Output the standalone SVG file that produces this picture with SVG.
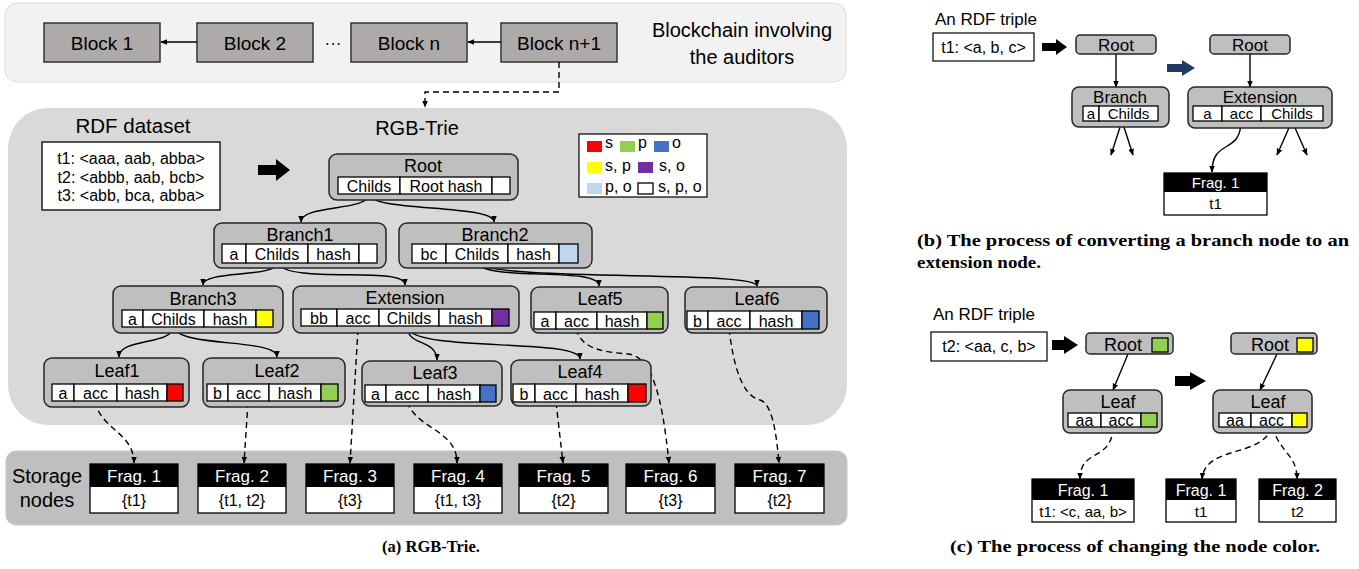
<svg xmlns="http://www.w3.org/2000/svg" width="1359" height="569" viewBox="0 0 1359 569">
<style>
text{font-family:"Liberation Sans",Arial,sans-serif;fill:#000}
.node{fill:#bfbfbf;stroke:#262626;stroke-width:1.5}
.block{fill:#aeaaaa;stroke:#333;stroke-width:1.5}
.cell{fill:#fff;stroke:#000;stroke-width:1.3}
.ti{font-size:18px;text-anchor:middle}
.ct{font-size:16px;text-anchor:middle}
.edge{fill:none;stroke:#000;stroke-width:1.4;marker-end:url(#ah)}
.dash{fill:none;stroke:#000;stroke-width:1.4;stroke-dasharray:6 4;marker-end:url(#ah)}
.fb{fill:#fff;stroke:#000;stroke-width:1.3}
.fh{fill:#000}
.fht{font-size:17px;text-anchor:middle;fill:#fff}
.fbt{font-size:16px;text-anchor:middle}
.cap{font-family:"Liberation Serif","Times New Roman",serif;font-weight:bold;font-size:16.5px}
.r{fill:#ff0000}.g{fill:#92d050}.b{fill:#4472c4}.y{fill:#ffff00}.p{fill:#7030a0}.lb{fill:#bdd7ee}
</style>
<defs>
<marker id="ah" viewBox="0 0 10 10" refX="9" refY="5" markerWidth="7" markerHeight="7" markerUnits="userSpaceOnUse" orient="auto"><path d="M0,1 L10,5 L0,9 z" fill="#000"/></marker>
</defs>

<!-- Panel backgrounds -->
<rect x="5" y="3" width="841" height="79" rx="12" fill="#f2f2f2" stroke="#dcdcdc"/>
<rect x="8" y="108" width="839" height="317" rx="40" fill="#d9d9d9"/>
<rect x="6" y="451" width="841" height="74" rx="10" fill="#bfbfbf" stroke="#c9c9c9"/>

<!-- Blockchain -->
<g id="block1"><rect class="block" x="44" y="23" width="116" height="39"/><text x="102" y="49.5" font-size="19" text-anchor="middle">Block 1</text></g>
<g id="block2"><rect class="block" x="197" y="23" width="116" height="39"/><text x="255" y="49.5" font-size="19" text-anchor="middle">Block 2</text></g>
<text x="333" y="49" font-size="17" text-anchor="middle">···</text>
<g id="blockn"><rect class="block" x="351" y="23" width="116" height="39"/><text x="409" y="49.5" font-size="19" text-anchor="middle">Block n</text></g>
<g id="blockn1"><rect class="block" x="501" y="23" width="116" height="39"/><text x="559" y="49.5" font-size="19" text-anchor="middle">Block n+1</text></g>
<text x="742" y="37" font-size="20" text-anchor="middle">Blockchain involving</text>
<text x="742" y="64" font-size="20" text-anchor="middle">the auditors</text>

<!-- RDF dataset -->
<text x="133" y="133" font-size="20.5" text-anchor="middle">RDF dataset</text>
<g id="dataset">
<rect x="42" y="142" width="178" height="68" fill="#fff" stroke="#000" stroke-width="1.3"/>
<text x="131" y="164" font-size="16" text-anchor="middle">t1: &lt;aaa, aab, abba&gt;</text>
<text x="131" y="183" font-size="16" text-anchor="middle">t2: &lt;abbb, aab, bcb&gt;</text>
<text x="131" y="201" font-size="16" text-anchor="middle">t3: &lt;abb, bca, abba&gt;</text>
</g>
<path d="M258,165 H276 V159 L290,170 L276,181 V175 H258 Z" fill="#000"/>
<text x="417" y="135" font-size="20" text-anchor="middle">RGB-Trie</text>

<!-- Legend -->
<g id="legend">
<rect x="579" y="134" width="128" height="63" fill="#fff" stroke="#000" stroke-width="1.2"/>
<rect class="r" x="587" y="141" width="15" height="11"/><text x="605" y="148" font-size="16">s</text>
<rect class="g" x="620" y="141" width="15" height="11"/><text x="638" y="148" font-size="16">p</text>
<rect class="b" x="654" y="141" width="15" height="11"/><text x="672" y="148" font-size="16">o</text>
<rect class="y" x="587" y="162" width="15" height="11"/><text x="605" y="171" font-size="16">s, p</text>
<rect class="p" x="638" y="162" width="15" height="11"/><text x="659" y="171" font-size="16">s, o</text>
<rect class="lb" x="587" y="183" width="15" height="11"/><text x="605" y="192" font-size="16">p, o</text>
<rect x="638" y="183" width="15" height="11" fill="#fff" stroke="#000" stroke-width="1.3"/><text x="658" y="192" font-size="16">s, p, o</text>
</g>

<!-- Connectors panel a -->
<g id="connectors">
<path class="edge" d="M197,42 H161"/>
<path class="edge" d="M501,42 H468"/>
<path class="dash" d="M559,62 V92 H425 V107"/>
<path class="edge" d="M369,194 C369,212 301,204 301,222"/>
<path class="edge" d="M369,194 C369,212 494,204 494,222"/>
<path class="edge" d="M277,263 C277,278 203,270 203,285"/>
<path class="edge" d="M277,263 C290,285 405,265 405,285"/>
<path class="edge" d="M476,263 C490,282 599,266 599,286"/>
<path class="edge" d="M476,263 C500,282 757,270 757,286"/>
<path class="edge" d="M173,327 C173,345 119,338 119,357"/>
<path class="edge" d="M173,327 C180,348 277,338 277,357"/>
<path class="edge" d="M408,329 C408,345 437,340 437,360"/>
<path class="edge" d="M408,329 C420,352 580,338 580,359"/>
<path class="dash" d="M96,401 C98,428 134,432 134,463"/>
<path class="dash" d="M248,402 L244,463"/>
<path class="dash" d="M358,329 L350,463"/>
<path class="dash" d="M407,402 C418,430 457,430 457,463"/>
<path class="dash" d="M556,402 L563,463"/>
<path class="dash" d="M576,329 C582,350 605,352 628,354 C652,357 662,395 669,463"/>
<path class="dash" d="M729,329 C733,360 740,395 760,400 C772,404 776,430 779,463"/>
</g>

<!-- Root -->
<g id="root">
<rect class="node" x="329" y="154" width="189" height="46" rx="8"/>
<text class="ti" x="423" y="172">Root</text>
<rect class="cell" x="338" y="177" width="62" height="17"/><text class="ct" x="369" y="191.5">Childs</text>
<rect class="cell" x="400" y="177" width="92" height="17"/><text class="ct" x="446" y="191.5">Root hash</text>
<rect class="cell" x="492" y="177" width="18" height="17"/>
</g>
<!-- Branch1 -->
<g id="branch1">
<rect class="node" x="214" y="223" width="172" height="45" rx="8"/>
<text class="ti" x="300" y="241">Branch1</text>
<rect class="cell" x="222" y="244" width="24" height="19"/><text class="ct" x="234" y="260">a</text>
<rect class="cell" x="246" y="244" width="62" height="19"/><text class="ct" x="277" y="260">Childs</text>
<rect class="cell" x="308" y="244" width="51" height="19"/><text class="ct" x="333.5" y="260">hash</text>
<rect class="cell" x="359" y="244" width="18" height="19"/>
</g>
<!-- Branch2 -->
<g id="branch2">
<rect class="node" x="399" y="223" width="193" height="45" rx="8"/>
<text class="ti" x="495" y="241">Branch2</text>
<rect class="cell" x="412" y="244" width="34" height="19"/><text class="ct" x="429" y="260">bc</text>
<rect class="cell" x="446" y="244" width="62" height="19"/><text class="ct" x="477" y="260">Childs</text>
<rect class="cell" x="508" y="244" width="51" height="19"/><text class="ct" x="533.5" y="260">hash</text>
<rect class="cell lb" x="559" y="244" width="19" height="19"/>
</g>
<!-- Branch3 -->
<g id="branch3">
<rect class="node" x="113" y="286" width="170" height="47" rx="8"/>
<text class="ti" x="203" y="305">Branch3</text>
<rect class="cell" x="122" y="310" width="21" height="17"/><text class="ct" x="132.5" y="324.5">a</text>
<rect class="cell" x="143" y="310" width="61" height="17"/><text class="ct" x="173.5" y="324.5">Childs</text>
<rect class="cell" x="204" y="310" width="52" height="17"/><text class="ct" x="230" y="324.5">hash</text>
<rect class="cell y" x="256" y="310" width="17" height="17"/>
</g>
<!-- Extension -->
<g id="extension">
<rect class="node" x="293" y="286" width="226" height="47" rx="8"/>
<text class="ti" x="405" y="304">Extension</text>
<rect class="cell" x="301" y="309" width="36" height="17"/><text class="ct" x="319" y="323.5">bb</text>
<rect class="cell" x="337" y="309" width="42" height="17"/><text class="ct" x="358" y="323.5">acc</text>
<rect class="cell" x="379" y="309" width="60" height="17"/><text class="ct" x="409" y="323.5">Childs</text>
<rect class="cell" x="439" y="309" width="53" height="17"/><text class="ct" x="465.5" y="323.5">hash</text>
<rect class="cell p" x="492" y="309" width="17" height="17"/>
</g>
<!-- Leaf5 -->
<g id="leaf5">
<rect class="node" x="531" y="287" width="137" height="46" rx="8"/>
<text class="ti" x="600" y="305">Leaf5</text>
<rect class="cell" x="534" y="312" width="22" height="17"/><text class="ct" x="545" y="326.5">a</text>
<rect class="cell" x="556" y="312" width="41" height="17"/><text class="ct" x="576.5" y="326.5">acc</text>
<rect class="cell" x="597" y="312" width="50" height="17"/><text class="ct" x="622" y="326.5">hash</text>
<rect class="cell g" x="647" y="312" width="16" height="17"/>
</g>
<!-- Leaf6 -->
<g id="leaf6">
<rect class="node" x="685" y="287" width="142" height="46" rx="8"/>
<text class="ti" x="757" y="305">Leaf6</text>
<rect class="cell" x="687" y="311" width="21" height="18"/><text class="ct" x="697.5" y="326.5">b</text>
<rect class="cell" x="708" y="311" width="42" height="18"/><text class="ct" x="729" y="326.5">acc</text>
<rect class="cell" x="750" y="311" width="52" height="18"/><text class="ct" x="776" y="326.5">hash</text>
<rect class="cell b" x="802" y="311" width="17" height="18"/>
</g>
<!-- Leaf1 -->
<g id="leaf1">
<rect class="node" x="44" y="358" width="145" height="49" rx="8"/>
<text class="ti" x="117" y="377">Leaf1</text>
<rect class="cell" x="52" y="384" width="22" height="17"/><text class="ct" x="63" y="398.5">a</text>
<rect class="cell" x="74" y="384" width="43" height="17"/><text class="ct" x="95.5" y="398.5">acc</text>
<rect class="cell" x="117" y="384" width="50" height="17"/><text class="ct" x="142" y="398.5">hash</text>
<rect class="cell r" x="167" y="384" width="16" height="17"/>
</g>
<!-- Leaf2 -->
<g id="leaf2">
<rect class="node" x="203" y="358" width="142" height="49" rx="8"/>
<text class="ti" x="277" y="377">Leaf2</text>
<rect class="cell" x="207" y="384" width="21" height="17"/><text class="ct" x="217.5" y="398.5">b</text>
<rect class="cell" x="228" y="384" width="41" height="17"/><text class="ct" x="248.5" y="398.5">acc</text>
<rect class="cell" x="269" y="384" width="52" height="17"/><text class="ct" x="295" y="398.5">hash</text>
<rect class="cell g" x="321" y="384" width="17" height="17"/>
</g>
<!-- Leaf3 -->
<g id="leaf3">
<rect class="node" x="362" y="361" width="140" height="45" rx="8"/>
<text class="ti" x="435" y="379">Leaf3</text>
<rect class="cell" x="365" y="385" width="21" height="17"/><text class="ct" x="375.5" y="399.5">a</text>
<rect class="cell" x="386" y="385" width="42" height="17"/><text class="ct" x="407" y="399.5">acc</text>
<rect class="cell" x="428" y="385" width="52" height="17"/><text class="ct" x="454" y="399.5">hash</text>
<rect class="cell b" x="480" y="385" width="16" height="17"/>
</g>
<!-- Leaf4 -->
<g id="leaf4">
<rect class="node" x="511" y="360" width="140" height="46" rx="8"/>
<text class="ti" x="580" y="378">Leaf4</text>
<rect class="cell" x="513" y="384" width="22" height="18"/><text class="ct" x="524" y="399.5">b</text>
<rect class="cell" x="535" y="384" width="41" height="18"/><text class="ct" x="555.5" y="399.5">acc</text>
<rect class="cell" x="576" y="384" width="52" height="18"/><text class="ct" x="602" y="399.5">hash</text>
<rect class="cell r" x="628" y="384" width="18" height="18"/>
</g>

<!-- Storage -->
<text x="47" y="483" font-size="20" text-anchor="middle">Storage</text>
<text x="47" y="507" font-size="20" text-anchor="middle">nodes</text>
<g id="frag1"><rect class="fb" x="90" y="464" width="88" height="49"/><rect class="fh" x="90" y="464" width="88" height="23"/><text class="fht" x="134" y="482">Frag. 1</text><text class="fbt" x="134" y="506">{t1}</text></g>
<g id="frag2"><rect class="fb" x="198" y="464" width="88" height="49"/><rect class="fh" x="198" y="464" width="88" height="23"/><text class="fht" x="242" y="482">Frag. 2</text><text class="fbt" x="242" y="506">{t1, t2}</text></g>
<g id="frag3"><rect class="fb" x="306" y="464" width="88" height="49"/><rect class="fh" x="306" y="464" width="88" height="23"/><text class="fht" x="350" y="482">Frag. 3</text><text class="fbt" x="350" y="506">{t3}</text></g>
<g id="frag4"><rect class="fb" x="414" y="464" width="88" height="49"/><rect class="fh" x="414" y="464" width="88" height="23"/><text class="fht" x="458" y="482">Frag. 4</text><text class="fbt" x="458" y="506">{t1, t3}</text></g>
<g id="frag5"><rect class="fb" x="519" y="464" width="89" height="49"/><rect class="fh" x="519" y="464" width="89" height="23"/><text class="fht" x="563.5" y="482">Frag. 5</text><text class="fbt" x="563.5" y="506">{t2}</text></g>
<g id="frag6"><rect class="fb" x="626" y="464" width="89" height="49"/><rect class="fh" x="626" y="464" width="89" height="23"/><text class="fht" x="670.5" y="482">Frag. 6</text><text class="fbt" x="670.5" y="506">{t3}</text></g>
<g id="frag7"><rect class="fb" x="735" y="464" width="89" height="49"/><rect class="fh" x="735" y="464" width="89" height="23"/><text class="fht" x="779.5" y="482">Frag. 7</text><text class="fbt" x="779.5" y="506">{t2}</text></g>

<text class="cap" x="431" y="552" text-anchor="middle">(a) RGB-Trie.</text>

<!-- Panel b -->
<text x="935" y="25" font-size="17">An RDF triple</text>
<g id="b-triple"><rect x="933" y="33" width="101" height="28" fill="#fff" stroke="#000" stroke-width="1.2"/><text x="983.5" y="53" font-size="16" text-anchor="middle">t1: &lt;a, b, c&gt;</text></g>
<path d="M1042,43 H1056 V39 L1067,47 L1056,55 V51 H1042 Z" fill="#000"/>
<path d="M1167,64 H1182 V60 L1195,68 L1182,76 V72 H1167 Z" fill="#1f3b63"/>
<g id="b-connectors">
<path class="edge" d="M1116,54 V87"/>
<path class="edge" d="M1122,121 L1111,155"/>
<path class="edge" d="M1122,121 L1133,155"/>
<path class="edge" d="M1250,54 V87"/>
<path class="edge" d="M1292,121 L1277,155"/>
<path class="edge" d="M1292,121 L1307,155"/>
<path class="edge" d="M1241,121 C1241,155 1212,138 1212,172"/>
</g>
<g id="b-root1"><rect class="node" x="1076" y="35" width="80" height="19" rx="4"/><text x="1116" y="51" font-size="17" text-anchor="middle">Root</text></g>
<g id="b-root2"><rect class="node" x="1210" y="35" width="80" height="19" rx="4"/><text x="1250" y="51" font-size="17" text-anchor="middle">Root</text></g>
<g id="b-branch">
<rect class="node" x="1072" y="87" width="97" height="40" rx="7"/>
<text x="1120" y="103" font-size="17" text-anchor="middle">Branch</text>
<rect class="cell" x="1083" y="106" width="16" height="15"/><text x="1091" y="119" font-size="15" text-anchor="middle">a</text>
<rect class="cell" x="1099" y="106" width="59" height="15"/><text x="1128.5" y="119" font-size="15" text-anchor="middle">Childs</text>
</g>
<g id="b-extension">
<rect class="node" x="1188" y="87" width="144" height="41" rx="7"/>
<text x="1260" y="103" font-size="17" text-anchor="middle">Extension</text>
<rect class="cell" x="1193" y="106" width="29" height="15"/><text x="1207.5" y="119" font-size="15" text-anchor="middle">a</text>
<rect class="cell" x="1222" y="106" width="39" height="15"/><text x="1241.5" y="119" font-size="15" text-anchor="middle">acc</text>
<rect class="cell" x="1261" y="106" width="62" height="15"/><text x="1292" y="119" font-size="15" text-anchor="middle">Childs</text>
</g>
<g id="b-frag1"><rect class="fb" x="1164" y="173" width="103" height="42"/><rect class="fh" x="1164" y="173" width="103" height="19"/><text x="1215.5" y="188" font-size="15" text-anchor="middle" fill="#fff" style="fill:#fff">Frag. 1</text><text x="1215.5" y="209" font-size="15" text-anchor="middle">t1</text></g>
<text class="cap" x="917" y="246" textLength="432" lengthAdjust="spacingAndGlyphs">(b) The process of converting a branch node to an</text>
<text class="cap" x="917" y="268" textLength="124" lengthAdjust="spacingAndGlyphs">extension node.</text>

<!-- Panel c -->
<text x="933" y="320" font-size="17">An RDF triple</text>
<g id="c-triple"><rect x="931" y="332" width="116" height="29" fill="#fff" stroke="#000" stroke-width="1.2"/><text x="989" y="352" font-size="16" text-anchor="middle">t2: &lt;aa, c, b&gt;</text></g>
<path d="M1052,340 H1064 V336 L1078,345 L1064,354 V350 H1052 Z" fill="#000"/>
<path d="M1175,376 H1190 V372 L1206,381 L1190,390 V386 H1175 Z" fill="#000"/>
<g id="c-connectors">
<path class="edge" d="M1128,354 L1113,390"/>
<path class="edge" d="M1277,354 L1260,390"/>
<path class="dash" d="M1113,427 C1112,462 1080,448 1080,479"/>
<path class="dash" d="M1272,427 C1262,458 1205,445 1202,479"/>
<path class="dash" d="M1272,427 C1282,455 1297,455 1297,479"/>
</g>
<g id="c-root1"><rect class="node" x="1086" y="333" width="87" height="21" rx="4"/><text x="1123" y="351" font-size="18" text-anchor="middle">Root</text><rect class="cell g" x="1152" y="338" width="16" height="14"/></g>
<g id="c-root2"><rect class="node" x="1231" y="333" width="86" height="21" rx="4"/><text x="1270" y="351" font-size="18" text-anchor="middle">Root</text><rect class="cell y" x="1297" y="338" width="16" height="14"/></g>
<g id="c-leaf1">
<rect class="node" x="1063" y="390" width="99" height="43" rx="7"/>
<text x="1118" y="408" font-size="18" text-anchor="middle">Leaf</text>
<rect class="cell" x="1068" y="413" width="33" height="14"/><text x="1084.5" y="425.5" font-size="16" text-anchor="middle">aa</text>
<rect class="cell" x="1101" y="413" width="40" height="14"/><text x="1121" y="425.5" font-size="16" text-anchor="middle">acc</text>
<rect class="cell g" x="1141" y="413" width="16" height="14"/>
</g>
<g id="c-leaf2">
<rect class="node" x="1213" y="390" width="99" height="43" rx="7"/>
<text x="1268" y="408" font-size="18" text-anchor="middle">Leaf</text>
<rect class="cell" x="1219" y="413" width="32" height="14"/><text x="1235" y="425.5" font-size="16" text-anchor="middle">aa</text>
<rect class="cell" x="1251" y="413" width="41" height="14"/><text x="1271.5" y="425.5" font-size="16" text-anchor="middle">acc</text>
<rect class="cell y" x="1292" y="413" width="15" height="14"/>
</g>
<g id="c-frag1a"><rect class="fb" x="1032" y="479" width="102" height="43"/><rect class="fh" x="1032" y="479" width="102" height="21"/><text x="1083" y="496" font-size="16" text-anchor="middle" style="fill:#fff">Frag. 1</text><text x="1083" y="517" font-size="15" text-anchor="middle">t1: &lt;c, aa, b&gt;</text></g>
<g id="c-frag1b"><rect class="fb" x="1166" y="479" width="70" height="43"/><rect class="fh" x="1166" y="479" width="70" height="21"/><text x="1201" y="496" font-size="16" text-anchor="middle" style="fill:#fff">Frag. 1</text><text x="1201" y="517" font-size="15" text-anchor="middle">t1</text></g>
<g id="c-frag2"><rect class="fb" x="1259" y="479" width="77" height="43"/><rect class="fh" x="1259" y="479" width="77" height="21"/><text x="1297.5" y="496" font-size="16" text-anchor="middle" style="fill:#fff">Frag. 2</text><text x="1297.5" y="517" font-size="15" text-anchor="middle">t2</text></g>
<text class="cap" x="950" y="552" textLength="370" lengthAdjust="spacingAndGlyphs">(c) The process of changing the node color.</text>
</svg>
